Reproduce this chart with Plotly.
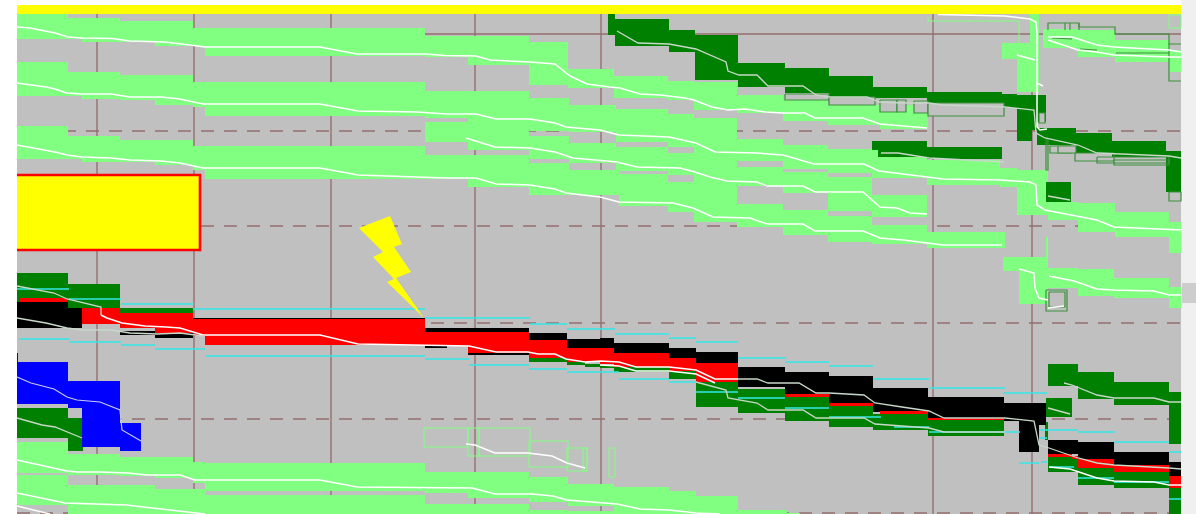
import plotly.graph_objects as go

# Grid
grid_x = [97, 194, 331, 475, 601, 933, 1032]
grid_y_dash = [131, 226, 323, 419, 513]

# Light-green bands: edges, tops, bottoms
lg1_x = [17, 68, 82, 120, 155, 193, 205, 425, 468, 529, 568, 614, 668, 694, 737, 783, 828, 880, 928]
lg1_t = [14, 18, 18, 21, 21, 28, 28, 36, 36, 42, 69, 76, 81, 82, 95, 100, 105, 105]
lg1_b = [39, 39, 42, 42, 46, 46, 56, 57, 65, 85, 88, 98, 100, 110, 113, 121, 125, 129]

lg2_x = [17, 68, 82, 120, 155, 193, 205, 425, 529, 569, 616, 668, 694, 737, 783, 828, 872, 927, 1000, 1017, 1048]
lg2_t = [62, 72, 72, 75, 75, 82, 82, 91, 98, 105, 109, 114, 118, 139, 145, 149, 150, 160, 168, 170]
lg2_b = [96, 96, 99, 100, 105, 107, 116, 118, 131, 132, 142, 147, 153, 161, 169, 173, 178, 185, 187, 215]

lg3_x = [425, 468, 529, 569, 616, 668, 694, 737, 783, 828, 872, 927]
lg3_t = [122, 110, 136, 143, 147, 153, 150, 167, 172, 177, 195]
lg3_b = [142, 150, 159, 163, 171, 175, 184, 186, 193, 211, 217]

lg4_x = [17, 68, 82, 120, 155, 193, 205, 425, 468, 529, 569, 619, 668, 694, 737, 783, 828, 872, 927, 1005]
lg4_t = [126, 136, 136, 140, 140, 146, 146, 155, 155, 163, 170, 174, 182, 183, 204, 210, 216, 225, 232]
lg4_b = [159, 159, 162, 162, 165, 170, 179, 179, 187, 195, 195, 206, 212, 222, 227, 235, 242, 244, 248]

lg5_x = [17, 68, 120, 155, 193, 205, 425, 468, 529, 568, 614, 669, 696, 738, 787, 800]
lg5_t = [442, 454, 457, 457, 462, 463, 472, 472, 477, 484, 487, 491, 496, 510, 513]
lg5_b = [473, 475, 476, 478, 483, 491, 493, 498, 502, 506, 514, 514, 514, 514, 514]

lg6_x = [17, 68, 120, 155, 205, 425, 529, 568, 640]
lg6_t = [475, 485, 485, 489, 495, 504, 510, 511]
lg6_b = [505, 514, 514, 514, 514, 514, 514, 514]

lg7_x = [1043, 1078, 1115, 1169, 1181]
lg7_t = [29, 30, 40, 50]
lg7_b = [48, 57, 62, 72]

lg8_x = [1002, 1017, 1030, 1039]
lg8_t = [43, 43, 14]
lg8_b = [59, 92, 92]

lg9_x = [1003, 1019, 1048, 1078, 1114, 1169, 1181]
lg9_t = [257, 257, 268, 269, 278, 287]
lg9_b = [271, 304, 288, 296, 298, 308]

lg10_x = [1048, 1078, 1115, 1169, 1181]
lg10_t = [202, 203, 212, 222]
lg10_b = [220, 232, 237, 253]

lg11_x = [1046, 1048]
lg11_t = [237]
lg11_b = [257]

# Dark-green bands
dg1_x = [608, 615, 669, 695, 738, 785, 829, 873, 927, 1002, 1017, 1032, 1037, 1046]
dg1_t = [14, 19, 30, 35, 63, 68, 76, 87, 92, 94, 95, 95, 95]
dg1_b = [35, 46, 52, 80, 87, 93, 97, 98, 105, 108, 141, 130, 122]

dg2_x = [1037, 1076, 1112, 1166, 1181]
dg2_t = [128, 133, 141, 151]
dg2_b = [145, 153, 157, 192]

dg3_x = [872, 878, 927, 1002]
dg3_t = [141, 141, 147]
dg3_b = [150, 157, 159]

dg4_x = [1046, 1071]
dg4_t = [182]
dg4_b = [202]

dg5_x = [17, 68, 120, 193]
dg5_t = [273, 284, 308]
dg5_b = [302, 308, 316]

dg6_x = [17, 68, 83]
dg6_t = [408, 418]
dg6_b = [438, 451]

dg7_x = [696, 738, 785, 829, 873, 928, 1004]
dg7_t = [382, 389, 397, 406, 414, 420]
dg7_b = [407, 413, 421, 427, 430, 436]

dg8_x = [529, 567, 585, 600, 614, 669, 696]
dg8_t = [358, 362, 364, 365, 365, 370]
dg8_b = [362, 365, 367, 368, 372, 379]

dg9_x = [1048, 1078, 1114, 1169, 1181]
dg9_t = [457, 468, 472, 488]
dg9_b = [472, 485, 488, 514]

dg10_x = [1048, 1078, 1114, 1169, 1181]
dg10_t = [364, 372, 382, 392]
dg10_b = [386, 399, 405, 444]

dg11_x = [1046, 1072]
dg11_t = [398]
dg11_b = [417]

dg12_x = [1045, 1048]
dg12_t = [422]
dg12_b = [440]

# Blue band
blue_x = [17, 18, 68, 82, 120, 141]
blue_t = [353, 362, 381, 381, 423]
blue_b = [404, 404, 408, 447, 451]

# Black bands
bk1_x = [17, 68, 82]
bk1_t = [302, 308]
bk1_b = [328, 328]

bk2_x = [120, 155, 193]
bk2_t = [331, 333]
bk2_b = [335, 338]

bk3_x = [193, 425]
bk3_t = [318]
bk3_b = [320]

bk4_x = [425, 529, 567, 600, 614, 669, 696, 738, 785, 829, 873, 928, 1004, 1019, 1032, 1046]
bk4_t = [328, 333, 339, 338, 343, 348, 352, 367, 372, 376, 388, 397, 403, 403, 403]
bk4_b = [332, 340, 348, 348, 353, 358, 363, 387, 394, 403, 412, 418, 421, 452, 425]

bk5_x = [1019, 1039]
bk5_t = [425]
bk5_b = [452]

bk6_x = [425, 447]
bk6_t = [346]
bk6_b = [348]

bk7_x = [468, 529]
bk7_t = [352]
bk7_b = [355]

bk8_x = [1048, 1078, 1114, 1169, 1181]
bk8_t = [440, 442, 452, 462]
bk8_b = [454, 461, 465, 476]

# Red bands
rd1_x = [19, 68]
rd1_t = [298]
rd1_b = [302]

rd2_x = [82, 120, 155, 193, 205, 425, 468, 529, 567, 600, 614, 669, 696, 738]
rd2_t = [308, 313, 313, 319, 319, 332, 332, 340, 348, 348, 353, 358, 363]
rd2_b = [324, 328, 333, 336, 345, 346, 353, 358, 362, 364, 367, 371, 382]

rd3_x = [785, 829]
rd3_t = [394]
rd3_b = [397]

rd4_x = [829, 873]
rd4_t = [403]
rd4_b = [406]

rd5_x = [880, 928]
rd5_t = [411]
rd5_b = [414]

rd6_x = [928, 1004]
rd6_t = [418]
rd6_b = [420]

rd7_x = [1048, 1072, 1078, 1114, 1169, 1181]
rd7_t = [454, 456, 459, 465, 476]
rd7_b = [457, 459, 468, 472, 488]

# Yellow marks
strip_x = [17, 1181]
strip_t = [5]
strip_b = [14]
box_x = [17, 200]
box_t = [175]
box_b = [250]
bolt_x = [359, 390, 402, 394, 411, 396, 424, 387, 394, 373, 383, 359]
bolt_y = [228, 216, 244, 247, 272, 278, 318, 282, 279, 257, 252, 228]

# Scrollbar
side_x = [1181, 1196]
side_t = [0]
side_b = [514]
thumb_x = [1182, 1196]
thumb_t = [283]
thumb_b = [303]

# Page background column
bg_x = [17, 1181]
bg_t = [5]
bg_b = [514]

# White lines
l1_x = [17, 30, 55, 68, 82, 112, 130, 165, 190, 205, 320, 357, 425, 445, 476, 490, 530, 555, 570, 580, 587, 610, 620, 640, 660, 685, 694, 712, 728, 745, 765, 783, 805, 815, 863, 880, 905, 927]
l1_y = [27, 28, 33, 37, 38, 38.5, 41, 42, 45, 47, 47, 54, 54, 55.5, 56, 60, 62, 64, 76, 81, 84, 87, 88, 94, 95, 98, 100, 107, 110, 109, 112, 113, 113, 118, 118, 124, 126, 128]
l2_x = [17, 46, 55, 67, 82, 111, 130, 161, 180, 203, 320, 358, 417, 446, 476, 496, 530, 555, 566, 585, 600, 619, 669, 696, 715, 757, 783, 814, 864, 879, 929, 943, 1000, 1030, 1036, 1037, 1045, 1060, 1097, 1114, 1169, 1181]
l2_y = [83, 87, 89, 93, 94, 94, 97, 97, 99, 104, 104, 111, 112, 114, 114, 119, 119, 123, 127, 129, 130, 135, 137, 143, 152, 153, 155, 164, 164, 171, 177, 179, 180, 182, 185, 205, 210, 213, 220, 227, 229, 230]
l3_x = [466, 473, 495, 530, 555, 573, 600, 617, 637, 680, 695, 710, 727, 757, 767, 803, 815, 863, 880, 897, 910, 927]
l3_y = [138, 140, 147, 148, 152, 158, 160, 162, 167, 168, 172, 177, 181, 182, 186, 186, 192, 192, 207, 208, 213, 214]
l4_x = [17, 46, 55, 67, 82, 111, 130, 161, 180, 203, 320, 358, 417, 446, 476, 496, 530, 555, 566, 585, 600, 619, 673, 693, 713, 750, 767, 803, 815, 863, 880, 903, 930, 943, 1002]
l4_y = [145, 150, 152, 155, 157, 158, 160, 161, 163, 168, 168, 175, 177, 178, 178, 184, 185, 189, 193, 195, 197, 202, 203, 208, 217, 218, 224, 224, 231, 231, 238, 240, 243, 245, 245]
l5_x = [17, 43, 67, 77, 100, 128, 147, 180, 195, 320, 357, 472, 495, 532, 553, 567, 617, 640, 669, 696, 720]
l5_y = [460, 466, 471, 472, 472, 473, 475, 475, 480, 480, 487, 488, 494, 494, 496, 500, 504, 509, 510, 513, 514]
l6_x = [17, 65, 126, 191, 205]
l6_y = [493, 503, 505, 512, 514]
l7_x = [17, 50]
l7_y = [506, 514]
l8_x = [938, 1005, 1030, 1036, 1037, 1037, 1040, 1047]
l8_y = [14.5, 16, 19, 22, 33, 127, 130, 129]
l9_x = [1017, 1035]
l9_y = [55, 60]
l10_x = [1037, 1043]
l10_y = [83, 86]
l11_x = [1048, 1072, 1097, 1114, 1169, 1181]
l11_y = [37, 37, 45, 47, 50, 52]
l12_x = [1048, 1078, 1097, 1114, 1169, 1181]
l12_y = [40, 50, 52, 55, 57, 57]
l13_x = [1019, 1034, 1035, 1039, 1048]
l13_y = [269, 273, 288, 298, 300]
l14_x = [1049, 1074, 1097, 1114, 1154, 1169, 1181]
l14_y = [276, 281, 289, 290, 291, 295, 295]
l15_x = [1048, 1064]
l15_y = [308, 306]
l16_x = [466, 475, 495, 528, 552, 567, 585]
l16_y = [444, 445, 453, 453, 456, 463, 468]
l17_x = [101, 107, 122, 145, 166, 180, 203, 320, 358, 446, 469, 496, 528, 538, 555, 566, 585, 600, 619, 636, 669, 696, 715, 738]
l17_y = [315, 318, 323, 326, 327, 328, 335, 335, 344, 345, 346, 352, 352, 354, 354, 359, 362, 361, 362, 367, 367, 370, 379, 379]
l18_x = [600, 619, 636, 669, 696, 715]
l18_y = [365, 366, 371, 371, 374, 383]
l19_x = [1049, 1070, 1097, 1114, 1154, 1169, 1181]
l19_y = [467, 469, 478, 481, 482, 485, 485]

# Pale (grey-white) lines over the dark marks
p1_x = [617, 638, 669, 696, 726, 728, 739, 757, 768, 803, 816, 829, 867, 879, 902, 929, 942, 1005, 1034, 1036, 1045, 1078, 1097, 1169, 1181]
p1_y = [31, 43, 44, 49, 62, 71, 75, 75, 86, 86, 95, 97, 97, 102, 103, 103, 105, 107, 110, 133, 138, 145, 153, 156, 158]
p2_x = [881, 898, 929, 1004]
p2_y = [153, 153, 158, 162]
p3_x = [1048, 1070]
p3_y = [196, 200]
p4_x = [17, 54, 67, 101, 101]
p4_y = [286, 293, 299, 307, 315]
p5_x = [17, 46, 67, 82, 111, 130, 157, 180, 203]
p5_y = [318, 323, 328, 330, 330, 333, 334, 333, 336]
p6_x = [738, 757, 768, 799, 816, 829, 864, 875, 902, 929, 944, 1005, 1034, 1039, 1049, 1078, 1097, 1114, 1169, 1181]
p6_y = [379, 379, 383, 383, 393, 393, 395, 403, 407, 411, 418, 418, 421, 445, 448, 458, 463, 465, 468, 469]
p7_x = [696, 726, 728, 757, 768, 803, 816, 864, 875, 929, 944, 1005]
p7_y = [382, 390, 398, 403, 410, 410, 418, 418, 424, 428, 432, 432]
p8_x = [1064, 1072, 1097, 1114, 1154, 1169, 1181]
p8_y = [383, 385, 395, 398, 398, 402, 402]
p9_x = [1048, 1070]
p9_y = [408, 414]
p10_x = [17, 42, 55, 69, 82]
p10_y = [418, 425, 427, 433, 438]
b1_x = [17, 31, 54, 67, 77, 100, 120, 122, 141]
b1_y = [377, 383, 389, 397, 400, 402, 410, 430, 441]

# Cyan segments: start, end, level
cy_x0 = [17, 69, 121, 193, 425, 530, 567, 615, 669, 696, 738, 785, 829, 873, 929, 1003,
         19, 69, 121, 155, 205, 425, 469, 529, 567, 619, 669, 696, 738, 785, 829, 894, 929, 1019, 1041, 1039, 1078, 1114, 1169, 1039, 1049, 1078, 1114, 1169]
cy_x1 = [69, 121, 194, 425, 530, 567, 615, 669, 696, 738, 786, 829, 873, 929, 1005, 1047,
         69, 121, 155, 205, 425, 469, 529, 567, 619, 669, 696, 738, 785, 829, 881, 929, 1020, 1039, 1047, 1078, 1115, 1169, 1181, 1047, 1074, 1114, 1169, 1181]
cy_y = [289, 299, 304, 309, 318, 324, 329, 334, 338, 342, 358, 362, 366, 379, 388, 393,
        339, 342, 345, 349, 356, 359, 365, 369, 372, 379, 382, 392, 398, 408, 417, 427, 432, 463, 462, 430, 432, 442, 452, 438, 467, 478, 482, 499]

# Outlined boxes: left, right, top, bottom
lgbox_x0 = [424, 468, 479, 529, 567, 583, 609, 1169]
lgbox_x1 = [468, 479, 530, 568, 587, 587, 615, 1181]
lgbox_y0 = [428, 428, 428, 441, 448, 448, 448, 15]
lgbox_y1 = [447, 456, 456, 467, 471, 471, 477, 28]
dgbox_x0 = [785, 829, 880, 897, 914, 928, 1046, 1049, 1050, 1058, 1075, 1097, 1114, 1169, 1039, 1046]
dgbox_x1 = [829, 875, 897, 906, 928, 1004, 1067, 1065, 1071, 1076, 1114, 1169, 1169, 1181, 1045, 1048]
dgbox_y0 = [94, 97, 100, 100, 101, 103, 290, 292, 146, 146, 153, 157, 160, 192, 113, 140]
dgbox_y1 = [100, 105, 112, 112, 113, 116, 311, 307, 153, 153, 161, 163, 165, 201, 123, 170]
dgbox_filled = [1, 1, 1, 1, 1, 1, 0, 0, 1, 1, 0, 0, 0, 1, 1, 0]

# Thin outlines
step_x = [1048, 1048, 1079, 1079, 1115, 1115, 1169, 1169, 1181]
step_y = [30, 23, 23, 27, 27, 34, 34, 44, 44]
step2_x = [1169, 1169, 1181]
step2_y = [44, 81, 81]
pale_x = [928, 928, 1019, 1019]
pale_y = [17, 21, 21, 43]
seg_x0 = [1065, 1070, 1079, 1052, 1080, 1116]
seg_x1 = [1065, 1070, 1079, 1072, 1097, 1169]
seg_y0 = [23, 23, 23, 38, 49, 53]
seg_y1 = [30, 30, 30, 39, 50, 53]

GRID = "#946f6f"
LIGHT = "#80ff80"
DARK = "#008000"
EDGE = "#3d8f3d"
GREY = "#c0c0c0"

fig = go.Figure()


def polygon(x, y, color):
    fig.add_trace(go.Scatter(x=x, y=y, mode="lines", fill="toself", fillcolor=color,
                             line=dict(width=0, color=color), hoverinfo="skip", showlegend=False))


def band(edges, tops, bottoms, color):
    xs, ys = [], []
    for i, top in enumerate(tops):
        xs += [edges[i], edges[i + 1]]
        ys += [top, top]
    for i in range(len(bottoms) - 1, -1, -1):
        xs += [edges[i + 1], edges[i]]
        ys += [bottoms[i], bottoms[i]]
    polygon(xs + xs[:1], ys + ys[:1], color)


def line(x, y, color, width=1.3, dash=None):
    fig.add_trace(go.Scatter(x=x, y=y, mode="lines", line=dict(color=color, width=width, dash=dash),
                             hoverinfo="skip", showlegend=False))


band(side_x, side_t, side_b, "#f0f0f0")
band(thumb_x, thumb_t, thumb_b, "#cdcdcd")
band(bg_x, bg_t, bg_b, GREY)

for g in grid_x:
    line([g, g], [14, 514], GRID, 1.4)
line([17, 1181], [34, 34], GRID, 1.4)
for g in grid_y_dash:
    line([17, 1181], [g, g], GRID, 1.4, "13px,10px")

for x, t, b in [(lg1_x, lg1_t, lg1_b), (lg2_x, lg2_t, lg2_b), (lg3_x, lg3_t, lg3_b), (lg4_x, lg4_t, lg4_b),
                (lg5_x, lg5_t, lg5_b), (lg6_x, lg6_t, lg6_b), (lg7_x, lg7_t, lg7_b), (lg8_x, lg8_t, lg8_b),
                (lg9_x, lg9_t, lg9_b), (lg10_x, lg10_t, lg10_b), (lg11_x, lg11_t, lg11_b)]:
    band(x, t, b, LIGHT)
line(pale_x, pale_y, LIGHT, 1)

for x, t, b in [(dg1_x, dg1_t, dg1_b), (dg2_x, dg2_t, dg2_b), (dg3_x, dg3_t, dg3_b), (dg4_x, dg4_t, dg4_b),
                (dg5_x, dg5_t, dg5_b), (dg6_x, dg6_t, dg6_b), (dg7_x, dg7_t, dg7_b), (dg8_x, dg8_t, dg8_b),
                (dg9_x, dg9_t, dg9_b), (dg10_x, dg10_t, dg10_b), (dg11_x, dg11_t, dg11_b), (dg12_x, dg12_t, dg12_b)]:
    band(x, t, b, DARK)

band(blue_x, blue_t, blue_b, "#0000ff")

for x, t, b in [(bk1_x, bk1_t, bk1_b), (bk2_x, bk2_t, bk2_b), (bk3_x, bk3_t, bk3_b), (bk4_x, bk4_t, bk4_b),
                (bk5_x, bk5_t, bk5_b), (bk6_x, bk6_t, bk6_b), (bk7_x, bk7_t, bk7_b), (bk8_x, bk8_t, bk8_b)]:
    band(x, t, b, "#000000")

for x, t, b in [(rd1_x, rd1_t, rd1_b), (rd2_x, rd2_t, rd2_b), (rd3_x, rd3_t, rd3_b), (rd4_x, rd4_t, rd4_b),
                (rd5_x, rd5_t, rd5_b), (rd6_x, rd6_t, rd6_b), (rd7_x, rd7_t, rd7_b)]:
    band(x, t, b, "#ff0000")

for i in range(len(lgbox_x0)):
    line([lgbox_x0[i], lgbox_x1[i], lgbox_x1[i], lgbox_x0[i], lgbox_x0[i]],
         [lgbox_y0[i], lgbox_y0[i], lgbox_y1[i], lgbox_y1[i], lgbox_y0[i]], LIGHT, 1)
for i in range(len(dgbox_x0)):
    xs = [dgbox_x0[i], dgbox_x1[i], dgbox_x1[i], dgbox_x0[i], dgbox_x0[i]]
    ys = [dgbox_y0[i], dgbox_y0[i], dgbox_y1[i], dgbox_y1[i], dgbox_y0[i]]
    if dgbox_filled[i]:
        polygon(xs, ys, GREY)
    line(xs, ys, EDGE, 1.2)

line(step_x, step_y, EDGE, 1.2)
line(step2_x, step2_y, EDGE, 1.2)
for i in range(len(seg_x0)):
    line([seg_x0[i], seg_x1[i]], [seg_y0[i], seg_y1[i]], EDGE, 1.2)

for i in range(len(cy_y)):
    line([cy_x0[i], cy_x1[i]], [cy_y[i], cy_y[i]], "#33e8e8", 1.5)

for x, y in [(l1_x, l1_y), (l2_x, l2_y), (l3_x, l3_y), (l4_x, l4_y), (l5_x, l5_y), (l6_x, l6_y), (l7_x, l7_y),
             (l8_x, l8_y), (l9_x, l9_y), (l10_x, l10_y), (l11_x, l11_y), (l12_x, l12_y), (l13_x, l13_y),
             (l14_x, l14_y), (l15_x, l15_y), (l16_x, l16_y), (l17_x, l17_y), (l18_x, l18_y), (l19_x, l19_y)]:
    line(x, y, "#ffffff", 1.5)

for x, y in [(p1_x, p1_y), (p2_x, p2_y), (p3_x, p3_y), (p4_x, p4_y), (p5_x, p5_y), (p6_x, p6_y), (p7_x, p7_y),
             (p8_x, p8_y), (p9_x, p9_y), (p10_x, p10_y)]:
    line(x, y, "#c8d8c8", 1.3)
line(b1_x, b1_y, "#c8c8ff", 1.2)

band(strip_x, strip_t, strip_b, "#ffff00")
band(box_x, box_t, box_b, "#ffff00")
line([box_x[0], box_x[1], box_x[1], box_x[0]], [box_t[0], box_t[0], box_b[0], box_b[0]], "#ff0000", 2.6)
polygon(bolt_x, bolt_y, "#ffff00")

fig.update_layout(
    width=1196, height=514, margin=dict(l=0, r=0, t=0, b=0),
    paper_bgcolor="#ffffff", plot_bgcolor="#ffffff", showlegend=False,
    xaxis=dict(range=[0, 1196], visible=False, fixedrange=True),
    yaxis=dict(range=[514, 0], visible=False, fixedrange=True),
)
fig.write_html("out.html", config={"displayModeBar": False}, include_plotlyjs=True,
               post_script="document.body.style.margin='0';document.body.style.overflow='hidden';")
